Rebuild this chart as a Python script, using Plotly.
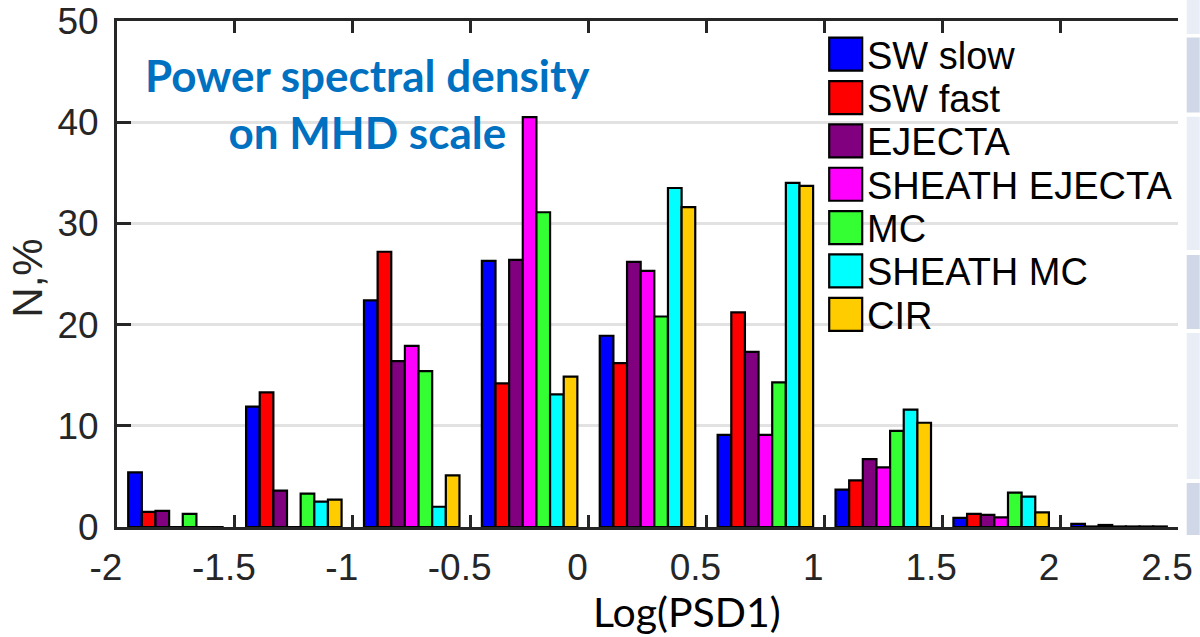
import plotly.graph_objects as go

# ---------------- data ----------------
bin_centers = [-1.75, -1.25, -0.75, -0.25, 0.25, 0.75, 1.25, 1.75, 2.25]
series_names = ["SW slow", "SW fast", "EJECTA", "SHEATH EJECTA", "MC", "SHEATH MC", "CIR"]
series_colors = ["#0000FF", "#FF0000", "#800080", "#FF00FF", "#33FF33", "#00FFFF", "#FFCC00"]

sw_slow       = [5.4, 11.9, 22.4, 26.3, 18.9,  9.1, 3.7, 0.9,  0.3]
sw_fast       = [1.5, 13.3, 27.2, 14.2, 16.2, 21.2, 4.6, 1.3,  0.05]
ejecta        = [1.6,  3.6, 16.4, 26.4, 26.2, 17.3, 6.7, 1.2,  0.2]
sheath_ejecta = [0.0,  0.0, 17.9, 40.5, 25.3,  9.1, 5.9, 0.95, 0.05]
mc            = [1.3,  3.3, 15.4, 31.1, 20.8, 14.3, 9.5, 3.4,  0.05]
sheath_mc     = [0.0,  2.5,  2.0, 13.1, 33.5, 34.0, 11.6, 3.0, 0.05]
cir           = [0.0,  2.7,  5.1, 14.85, 31.6, 33.7, 10.3, 1.45, 0.05]
series_values = [sw_slow, sw_fast, ejecta, sheath_ejecta, mc, sheath_mc, cir]

x_tickvals = [-2, -1.5, -1, -0.5, 0, 0.5, 1, 1.5, 2, 2.5]
x_ticktext = ["-2", "-1.5", "-1", "-0.5", "0", "0.5", "1", "1.5", "2", "2.5"]
y_tickvals = [0, 10, 20, 30, 40, 50]

title_text = "Power spectral density<br>on MHD scale"
x_title = "Log(PSD1)"
y_title = "N,%"

# ---------------- layout geometry ----------------
W, H = 1200, 637
L, R = 117.3, 1178.3
T, B = 21, 527

def px(xpix):
    return (xpix - L) / (R - L)

def py(ypix):
    return (B - ypix) / (B - T)

AX = "#262626"
fig = go.Figure()
for name, color, vals in zip(series_names, series_colors, series_values):
    fig.add_trace(go.Bar(
        x=bin_centers, y=vals, name=name, showlegend=False,
        marker=dict(color=color, line=dict(color="#000000", width=2.2)),
    ))

shapes = []
annotations = []

# legend background (white box hiding gridlines)
shapes.append(dict(type="rect", xref="paper", yref="paper",
                   x0=px(824), x1=px(1180), y0=py(340), y1=py(26),
                   fillcolor="white", line=dict(width=0), layer="between"))

# manual legend with large swatches
row0, dy = 54.2, 43.35
for i, (name, color) in enumerate(zip(series_names, series_colors)):
    cy = row0 + i * dy
    shapes.append(dict(type="rect", xref="paper", yref="paper",
                       x0=px(829.5), x1=px(862.5), y0=py(cy + 16.5), y1=py(cy - 16.5),
                       fillcolor=color, line=dict(color="#000000", width=2.2), layer="above"))
    annotations.append(dict(xref="paper", yref="paper", x=px(865), y=py(cy + 1.5),
                            xanchor="left", yanchor="middle", showarrow=False, text=name,
                            font=dict(family="Liberation Sans, Arial", size=38, color="#000000")))

# title in plot
annotations.append(dict(xref="paper", yref="paper", x=px(368), y=py(47),
                        xanchor="center", yanchor="top", showarrow=False, text=title_text,
                        align="center",
                        font=dict(family="Lato, Open Sans", size=44, color="#0070C0", weight="bold")))

# axis titles
annotations.append(dict(xref="paper", yref="paper", x=px(687), y=py(611),
                        xanchor="center", yanchor="middle", showarrow=False, text=x_title,
                        font=dict(family="Lato, Open Sans", size=41, color="#000000")))
annotations.append(dict(xref="paper", yref="paper", x=px(27), y=py(278),
                        xanchor="center", yanchor="middle", showarrow=False, text=y_title,
                        textangle=-90,
                        font=dict(family="Liberation Sans, Arial", size=42, color=AX)))

# right-edge slide strip decoration
strips = [(0, 34, "#e9edf5"), (37.5, 112.5, "#d0d7e6"), (116.7, 250, "#e9edf5"),
          (255, 329, "#d0d7e6"), (333, 479, "#e9edf5"), (483, 535, "#d0d7e6")]
for y0, y1, c in strips:
    shapes.append(dict(type="rect", xref="paper", yref="paper",
                       x0=px(1187), x1=px(1200), y0=py(y1), y1=py(y0),
                       fillcolor=c, line=dict(width=0), layer="above"))

fig.update_layout(
    width=W, height=H,
    margin=dict(l=L, r=W - R, t=T, b=H - B, pad=0, autoexpand=False),
    paper_bgcolor="white", plot_bgcolor="white",
    barmode="group", bargap=0.19, bargroupgap=0,
    showlegend=False,
    shapes=shapes, annotations=annotations,
    xaxis=dict(range=[-2, 2.5], tickvals=x_tickvals, ticktext=x_ticktext,
               ticks="inside", ticklen=12, tickwidth=3, tickcolor=AX,
               showline=True, linecolor=AX, linewidth=3, mirror="ticks",
               showgrid=False, zeroline=False, ticklabelshift=-11, ticklabelstandoff=6,
               automargin=False,
               tickfont=dict(family="Liberation Sans, Arial", size=37, color=AX)),
    yaxis=dict(range=[0, 50], tickvals=y_tickvals,
               ticks="inside", ticklen=14, tickwidth=3, tickcolor=AX,
               showline=True, linecolor=AX, linewidth=3, mirror=False,
               showgrid=True, gridcolor="#e2e2e2", gridwidth=3, zeroline=False,
               ticklabelstandoff=8, automargin=False,
               tickfont=dict(family="Liberation Sans, Arial", size=37, color=AX)),
)

fig.write_html("out.html")
